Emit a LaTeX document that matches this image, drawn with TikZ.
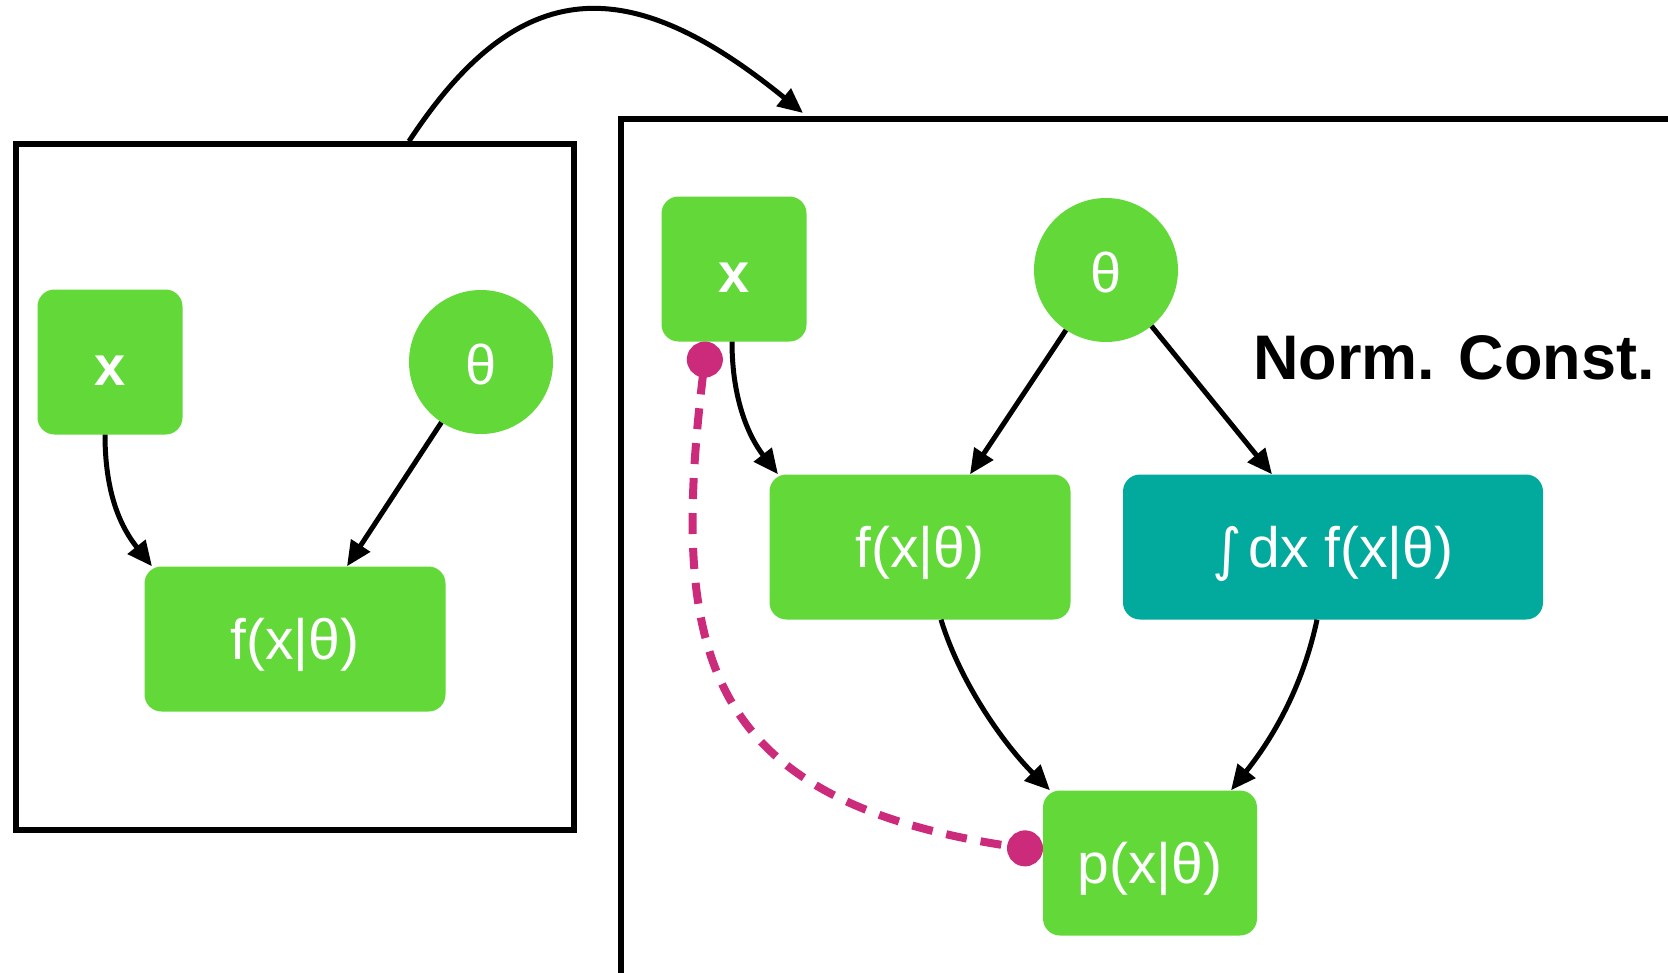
\documentclass[tikz,border=0pt]{standalone}
\usepackage{fontspec}
\setmainfont{Liberation Sans}
\newfontfamily\symfont{DejaVu Sans}
\usetikzlibrary{arrows.meta}
\definecolor{leafgreen}{RGB}{98,216,57}
\definecolor{tealbox}{RGB}{2,169,157}
\definecolor{linkpink}{RGB}{204,42,122}
\begin{document}
\begin{tikzpicture}[x=1pt,y=1pt,
  panel/.style={draw=black,line width=5.5pt,inner sep=0pt},
  varbox/.style={fill=leafgreen,rounded corners=17pt,minimum width=145pt,minimum height=145pt,
    text=white,inner sep=0pt,text height=46pt,text depth=0pt,
    font=\fontsize{56}{60}\selectfont\bfseries},
  parcirc/.style={circle,fill=leafgreen,minimum size=144pt,inner sep=0pt,
    text=white,text height=44pt,text depth=0pt,font=\fontsize{56}{60}\selectfont},
  densbox/.style={fill=leafgreen,rounded corners=17pt,minimum height=145pt,
    text=white,inner sep=0pt,text height=40pt,text depth=0pt,
    font=\fontsize{57}{60}\selectfont},
  link/.style={line width=5pt,-{Triangle[length=25pt,width=22pt]}},
  dotlink/.style={line width=8pt,linkpink,dash pattern=on 21pt off 14pt,
    {Circle[length=36pt,width=36pt]}-{Circle[length=36pt,width=36pt]}},
]
\useasboundingbox (0,0) rectangle (1668,-972);
\clip (0,0) rectangle (1668,-972);

% panels
\node[panel,minimum width=558pt,minimum height=686pt] (lframe) at (295,-487) {};
\node[panel,minimum width=1200pt,minimum height=1000pt,anchor=north west] (rframe) at (618,-116) {};

% left model
\node[varbox] (xl) at (110,-362) {x};
\node[parcirc] (thl) at (481,-362) {θ};
\node[densbox,minimum width=301pt] (fl) at (295,-639) {f(x|θ)};

% right model
\node[varbox] (xr) at (734,-269) {x};
\node[parcirc] (thr) at (1106,-270) {θ};
\node[densbox,minimum width=301pt] (fr) at (920,-547) {f(x|θ)};
\node[densbox,fill=tealbox,minimum width=420pt] (ir) at (1333,-547)
  {{\symfont\raisebox{-2pt}{∫}}\kern6pt dx f(x|θ)};
\node[densbox,minimum width=214pt] (pr) at (1150,-863) {p(x|θ)};
\node[font=\fontsize{63}{70}\selectfont\bfseries,text=black,inner sep=0pt] (nc) at (1454,-358) {Norm. Const.};

% panel transition
\draw[link] ([xshift=114pt]lframe.north) .. controls (520,28) and (630,28) .. ([xshift=185pt,yshift=3pt]rframe.north west);

% left connectors
\draw[link] ([xshift=-5pt]xl.south) .. controls +(0,-66) and +(-27,34) .. ([xshift=-143pt]fl.north);
\draw[link] (thl) -- ([xshift=52pt]fl.north);

% right connectors
\draw[link] ([xshift=-2pt]xr.south) .. controls +(0,-60) and +(-28,36) .. ([xshift=-142pt]fr.north);
\draw[link] (thr) -- ([xshift=50pt]fr.north);
\draw[link] (thr) -- ([xshift=-61pt]ir.north);
\draw[link] ([xshift=21pt]fr.south) .. controls +(20,-65) and +(-45,45) .. ([xshift=-100pt]pr.north);
\draw[link] ([xshift=-16pt]ir.south) .. controls +(-15,-70) and +(40,50) .. ([xshift=81pt]pr.north);

% dashed link
\draw[dotlink] ([xshift=-27pt]xr.south) .. controls +(-37,-307) and +(-343,51) .. ([yshift=12pt]pr.west);
\end{tikzpicture}
\end{document}
